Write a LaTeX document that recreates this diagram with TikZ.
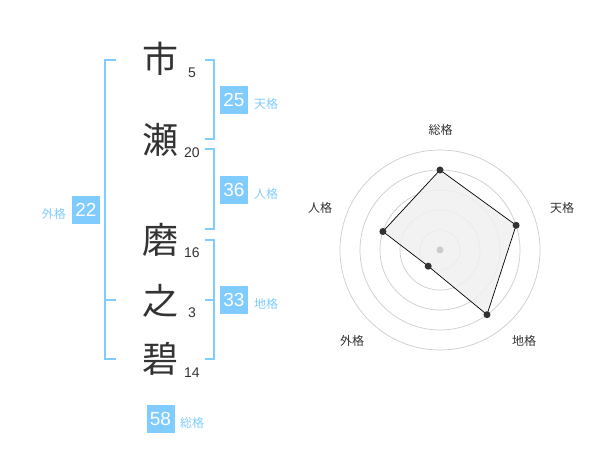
\documentclass[tikz,border=0pt]{standalone}
\usepackage{fontspec}
\setmainfont{Liberation Sans}
\newfontfamily\jp{Noto Sans CJK JP}
\definecolor{blu}{HTML}{80CCFF}
\definecolor{ink}{HTML}{333333}
\definecolor{ring}{HTML}{CCCCCC}
\definecolor{poly}{HTML}{F0F0F0}
\begin{document}
\begin{tikzpicture}[x=1pt,y=-1pt,
 kanji/.style={font=\jp\fontsize{36}{36}\selectfont, text=ink, inner sep=0pt},
 strokes/.style={font=\fontsize{14}{14}\selectfont, text=ink, inner sep=0pt},
 valbox/.style={fill=blu, text=white, minimum width=28pt, minimum height=28pt, inner sep=0pt, font=\fontsize{19}{19}\selectfont},
 kaku/.style={font=\jp\fontsize{12}{12}\selectfont, text=blu, inner sep=0pt},
 bracket/.style={draw=blu, line width=2pt},
 axislabel/.style={font=\jp\fontsize{12}{12}\selectfont, text=ink, inner sep=0pt},
 ringline/.style={draw=ring, line width=0.7pt},
 dot/.style={circle, fill=ink, inner sep=0pt, minimum size=7pt},
 hub/.style={circle, fill=ring, inner sep=0pt, minimum size=7pt}]
\useasboundingbox (0,0) rectangle (600,470);
% characters
\node[kanji] (k1) at (160,59) {市};
\node[kanji] (k2) at (160,140) {瀬};
\node[kanji] (k3) at (160,240) {磨};
\node[kanji] (k4) at (160,301) {之};
\node[kanji] (k5) at (160,359) {碧};
\node[strokes] (s1) at (192,73) {5};
\node[strokes] (s2) at (192,153) {20};
\node[strokes] (s3) at (192,253) {16};
\node[strokes] (s4) at (192,313) {3};
\node[strokes] (s5) at (192,373) {14};
% brackets
\draw[bracket] (116,60) -- (105,60) -- (105,359) -- (116,359);
\draw[bracket] (105,300) -- (116,300);
\draw[bracket] (205,60) -- (214,60) -- (214,139) -- (205,139);
\draw[bracket] (205,149) -- (214,149) -- (214,229) -- (205,229);
\draw[bracket] (205,240) -- (214,240) -- (214,359) -- (205,359);
\draw[bracket] (205,300) -- (214,300);
% values
\node[valbox] (ten) at (234,100) {25};
\node[kaku, anchor=west] (tenl) at (254,104) {天格};
\node[valbox] (jin) at (234,190) {36};
\node[kaku, anchor=west] (jinl) at (254,194) {人格};
\node[valbox] (chi) at (234,300) {33};
\node[kaku, anchor=west] (chil) at (254,304) {地格};
\node[valbox] (gai) at (86,210) {22};
\node[kaku, anchor=east] (gail) at (66,214) {外格};
\node[valbox] (sou) at (160.5,418.5) {58};
\node[kaku, anchor=west] (soul) at (180,423) {総格};
% radar
\coordinate (c) at (440,250);
\foreach \r in {20,40,60,80,100} \draw[ringline] (c) circle[radius=\r pt];
\coordinate (pS) at (440,170);
\coordinate (pT) at (516.1,225.3);
\coordinate (pC) at (487.0,314.7);
\coordinate (pG) at (428.2,266.2);
\coordinate (pJ) at (382.9,231.5);
\filldraw[fill=poly, fill opacity=0.85, draw=black, line width=0.7pt] (pS) -- (pT) -- (pC) -- (pG) -- (pJ) -- cycle;
\node[hub] (hubdot) at (c) {};
\node[dot] (dS) at (pS) {};
\node[dot] (dT) at (pT) {};
\node[dot] (dC) at (pC) {};
\node[dot] (dG) at (pG) {};
\node[dot] (dJ) at (pJ) {};
\node[axislabel] (lS) at (440.5,130) {総格};
\node[axislabel] (lT) at (562,208) {天格};
\node[axislabel] (lC) at (524,341) {地格};
\node[axislabel] (lG) at (352,341) {外格};
\node[axislabel] (lJ) at (320,208) {人格};
\end{tikzpicture}
\end{document}
